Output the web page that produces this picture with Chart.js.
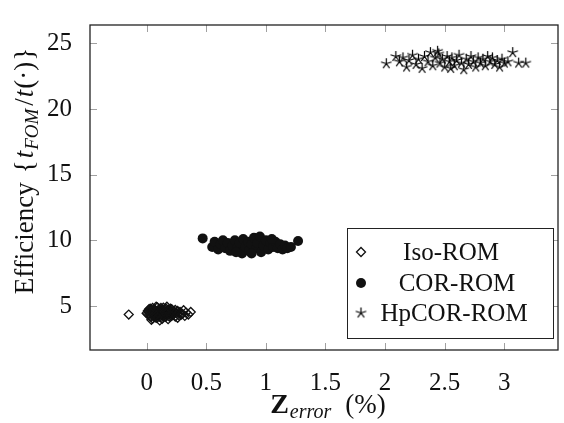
<!DOCTYPE html>
<html>
<head>
<meta charset="utf-8">
<script src="https://cdn.jsdelivr.net/npm/chart.js@4.4.1/dist/chart.umd.min.js"></script>
<style>
  html, body { margin: 0; padding: 0; background: #fff; }
  #wrap { width: 564px; height: 423px; }
</style>
</head>
<body>
<div id="wrap"><canvas id="chart" width="564" height="423"></canvas></div>
<script>
// Axis ticks
const xTicks = [0, 0.5, 1, 1.5, 2, 2.5, 3];
const xTickLabels = ['0', '0.5', '1', '1.5', '2', '2.5', '3'];
const yTicks = [5, 10, 15, 20, 25];
const yTickLabels = ['5', '10', '15', '20', '25'];

// Series (Z_error %, efficiency)
const isoRom = [
    [-0.15, 4.35], [0.00, 4.45], [0.01, 4.62], [0.02, 4.30], [0.02, 4.75], [0.03, 4.52],
    [0.04, 4.18], [0.04, 4.66], [0.05, 4.40], [0.05, 4.85], [0.06, 4.25], [0.06, 4.58],
    [0.07, 4.72], [0.07, 4.35], [0.08, 4.48], [0.08, 4.10], [0.09, 4.63], [0.09, 4.90],
    [0.10, 4.28], [0.10, 4.55], [0.11, 4.42], [0.11, 4.78], [0.12, 4.15], [0.12, 4.60],
    [0.13, 4.35], [0.13, 4.70], [0.14, 4.50], [0.14, 4.22], [0.15, 4.65], [0.15, 4.38],
    [0.16, 4.82], [0.16, 4.47], [0.17, 4.28], [0.17, 4.60], [0.18, 4.40], [0.18, 4.72],
    [0.19, 4.52], [0.19, 4.20], [0.20, 4.62], [0.21, 4.45], [0.21, 4.75], [0.22, 4.35],
    [0.23, 4.58], [0.24, 4.70], [0.25, 4.45], [0.26, 4.62], [0.27, 4.30], [0.28, 4.55],
    [0.30, 4.40], [0.31, 4.68], [0.32, 4.25], [0.33, 4.50], [0.35, 4.35], [0.37, 4.55],
    [0.05, 4.05], [0.13, 4.02], [0.17, 4.95], [0.08, 4.95],
    [0.01, 4.38], [0.03, 4.22], [0.03, 4.80], [0.06, 4.50], [0.07, 4.15], [0.09, 4.40],
    [0.10, 4.70], [0.11, 4.20], [0.12, 4.85], [0.13, 4.52], [0.14, 4.30], [0.15, 4.75],
    [0.16, 4.18], [0.17, 4.45], [0.18, 4.58], [0.19, 4.35], [0.20, 4.80], [0.21, 4.25],
    [0.22, 4.55], [0.23, 4.42], [0.10, 4.45], [0.06, 4.70], [0.15, 4.55], [0.08, 4.28],
    [0.04, 3.95], [0.11, 3.90], [0.18, 4.00], [0.02, 4.58], [0.09, 4.12], [0.14, 4.88],
    [0.20, 4.30], [0.24, 4.20], [0.29, 4.35], [0.26, 4.10]
];
const corRom = [
    [0.47, 10.15], [1.27, 9.95], [0.55, 9.5], [0.57, 9.9], [0.60, 9.3], [0.62, 9.7],
    [0.64, 10.0], [0.66, 9.4], [0.68, 9.8], [0.70, 9.2], [0.72, 9.6], [0.74, 10.0],
    [0.76, 9.4], [0.78, 9.8], [0.80, 9.0], [0.81, 10.1], [0.83, 9.5], [0.85, 9.9],
    [0.86, 9.2], [0.88, 9.7], [0.90, 10.2], [0.92, 9.4], [0.93, 9.8], [0.95, 10.3],
    [0.96, 9.1], [0.98, 9.6], [1.00, 10.0], [1.02, 9.3], [1.04, 9.8], [1.06, 9.5],
    [1.08, 9.9], [1.10, 9.4], [1.12, 9.7], [1.14, 9.3], [1.16, 9.6], [1.18, 9.4],
    [1.21, 9.5], [0.88, 9.0], [0.75, 9.1], [1.05, 10.1]
];
const hpcorRom = [
    [2.01, 23.45], [3.18, 23.5], [3.07, 24.3], [2.09, 24.0], [2.12, 23.6], [2.15, 23.9],
    [2.18, 23.2], [2.20, 23.7], [2.23, 24.1], [2.26, 23.4], [2.28, 23.8], [2.31, 23.1],
    [2.33, 24.0], [2.36, 23.6], [2.38, 24.3], [2.40, 23.3], [2.42, 23.9], [2.44, 24.4],
    [2.46, 23.5], [2.48, 23.8], [2.50, 23.2], [2.52, 24.0], [2.54, 23.6], [2.56, 23.9],
    [2.58, 23.3], [2.60, 23.7], [2.62, 24.1], [2.64, 23.5], [2.66, 23.0], [2.68, 23.8],
    [2.70, 23.4], [2.72, 24.0], [2.74, 23.6], [2.76, 23.2], [2.78, 23.9], [2.80, 23.5],
    [2.82, 23.8], [2.84, 23.3], [2.86, 24.0], [2.88, 23.6], [2.90, 23.9], [2.92, 23.4],
    [2.94, 23.7], [2.96, 23.2], [2.98, 23.8], [3.00, 23.5], [3.03, 23.6], [3.12, 23.5],
    [2.45, 24.2], [2.55, 23.1]
];
const seriesLabels = ['Iso-ROM', 'COR-ROM', 'HpCOR-ROM'];

const SERIF = '"Liberation Serif", "DejaVu Serif", serif';

// 5-armed asterisk like the pgfplots "star" mark
function makeStar() {
    const c = document.createElement('canvas');
    c.width = 13; c.height = 13;
    const g = c.getContext('2d');
    g.strokeStyle = '#000';
    g.lineWidth = 1.2;
    g.beginPath();
    for (let k = 0; k < 5; k++) {
        const a = -Math.PI / 2 + k * 2 * Math.PI / 5;
        g.moveTo(6.5, 6.5);
        g.lineTo(6.5 + 5.5 * Math.cos(a), 6.5 + 5.5 * Math.sin(a));
    }
    g.stroke();
    return c;
}
const starImg = makeStar();

function toPoints(arr) {
    return arr.map(p => ({ x: p[0], y: p[1] }));
}

// draw a run of text pieces, each with its own font, baseline shift and leading gap
function drawRuns(ctx, runs, x, y) {
    let w = 0;
    runs.forEach(r => { ctx.font = r.font; w += ctx.measureText(r.text).width + (r.gap || 0); });
    let cx = x - w / 2;
    runs.forEach(r => {
        ctx.font = r.font;
        cx += r.gap || 0;
        ctx.fillText(r.text, cx, y + (r.dy || 0));
        cx += ctx.measureText(r.text).width;
    });
}

const framePlugin = {
    id: 'frame',
    afterDatasetsDraw(chart) {
        const ctx = chart.ctx;
        const a = chart.chartArea;
        const xs = chart.scales.x, ys = chart.scales.y;
        ctx.save();

        // inner tick marks on all four sides
        ctx.strokeStyle = '#a0a0a0';
        ctx.lineWidth = 1;
        ctx.beginPath();
        xTicks.forEach(v => {
            const px = Math.round(xs.getPixelForValue(v)) + 0.5;
            ctx.moveTo(px, a.bottom); ctx.lineTo(px, a.bottom - 7);
            ctx.moveTo(px, a.top); ctx.lineTo(px, a.top + 7);
        });
        yTicks.forEach(v => {
            const py = Math.round(ys.getPixelForValue(v)) + 0.5;
            ctx.moveTo(a.left, py); ctx.lineTo(a.left + 7, py);
            ctx.moveTo(a.right, py); ctx.lineTo(a.right - 7, py);
        });
        ctx.stroke();

        // axis frame
        ctx.strokeStyle = '#222';
        ctx.lineWidth = 1.3;
        ctx.strokeRect(a.left, a.top, a.right - a.left, a.bottom - a.top);

        // legend box
        const lx = 347, ly = 228, lw = 206, lh = 110;
        ctx.fillStyle = '#fff';
        ctx.fillRect(lx, ly, lw, lh);
        ctx.strokeStyle = '#222';
        ctx.lineWidth = 1;
        ctx.strokeRect(lx + 0.5, ly + 0.5, lw, lh);
        ctx.textBaseline = 'middle';
        ctx.textAlign = 'center';
        ctx.font = '25px ' + SERIF;
        const rowY = [252, 283, 313];
        const textX = [451, 457, 454];
        chart.data.datasets.forEach((ds, i) => {
            ctx.fillStyle = ds.backgroundColor;
            ctx.strokeStyle = ds.borderColor;
            ctx.lineWidth = ds.borderWidth;
            Chart.helpers.drawPoint(ctx, {
                pointStyle: ds.pointStyle,
                radius: ds.pointRadius,
                borderWidth: ds.borderWidth,
                rotation: 0
            }, 361, rowY[i]);
            ctx.fillStyle = '#111';
            ctx.fillText(ds.label, textX[i], rowY[i] + 1);
        });

        // axis titles
        ctx.textAlign = 'left';
        ctx.textBaseline = 'alphabetic';
        ctx.fillStyle = '#111';
        const mid = (a.left + a.right) / 2;
        drawRuns(ctx, [
            { text: 'Z', font: 'bold 28px ' + SERIF },
            { text: 'error', font: 'italic 20px ' + SERIF, dy: 5, gap: 1 },
            { text: '(%)', font: '27px ' + SERIF, gap: 14 }
        ], mid + 4, 413);

        ctx.translate(33, 171);
        ctx.rotate(-Math.PI / 2);
        drawRuns(ctx, [
            { text: 'Efficiency', font: '27px ' + SERIF },
            { text: '{', font: '27px ' + SERIF, gap: 9 },
            { text: 't', font: 'italic 27px ' + SERIF, gap: 2 },
            { text: 'FOM', font: 'italic 19px ' + SERIF, dy: 5, gap: 1 },
            { text: '/', font: '27px ' + SERIF, gap: 3 },
            { text: 't', font: 'italic 27px ' + SERIF, gap: 1 },
            { text: '(\u00b7)', font: '27px ' + SERIF, gap: 1 },
            { text: '}', font: '27px ' + SERIF, gap: 1 }
        ], 0, 0);
        ctx.restore();
    }
};

const ctx = document.getElementById('chart').getContext('2d');
new Chart(ctx, {
    type: 'scatter',
    data: {
        datasets: [
            {
                label: seriesLabels[0],
                data: toPoints(isoRom),
                pointStyle: 'rectRot',
                pointRadius: 4.5,
                borderWidth: 1.3,
                borderColor: '#111',
                backgroundColor: 'rgba(0,0,0,0)'
            },
            {
                label: seriesLabels[1],
                data: toPoints(corRom),
                pointStyle: 'circle',
                pointRadius: 5,
                borderWidth: 0,
                borderColor: '#111',
                backgroundColor: '#111'
            },
            {
                label: seriesLabels[2],
                data: toPoints(hpcorRom),
                pointStyle: starImg,
                pointRadius: 5,
                borderWidth: 1,
                borderColor: '#111',
                backgroundColor: '#111'
            }
        ]
    },
    options: {
        responsive: false,
        animation: false,
        layout: { padding: { left: 0, top: 10, right: 3, bottom: 0 } },
        plugins: {
            legend: { display: false },
            tooltip: { enabled: false }
        },
        scales: {
            x: {
                type: 'linear',
                min: -0.475,
                max: 3.45,
                grid: { display: false },
                border: { display: false },
                afterFit(scale) { scale.height = 73; },
                afterBuildTicks(scale) { scale.ticks = xTicks.map(v => ({ value: v })); },
                ticks: {
                    padding: 10,
                    color: '#111',
                    font: { family: SERIF, size: 25 },
                    maxRotation: 0,
                    callback: (v) => xTickLabels[xTicks.indexOf(v)]
                }
            },
            y: {
                type: 'linear',
                min: 1.65,
                max: 26.4,
                grid: { display: false },
                border: { display: false },
                afterFit(scale) { scale.width = 90; },
                afterBuildTicks(scale) { scale.ticks = yTicks.map(v => ({ value: v })); },
                ticks: {
                    padding: 10,
                    color: '#111',
                    font: { family: SERIF, size: 25 },
                    callback: (v) => yTickLabels[yTicks.indexOf(v)]
                }
            }
        }
    },
    plugins: [framePlugin]
});
</script>
</body>
</html>
